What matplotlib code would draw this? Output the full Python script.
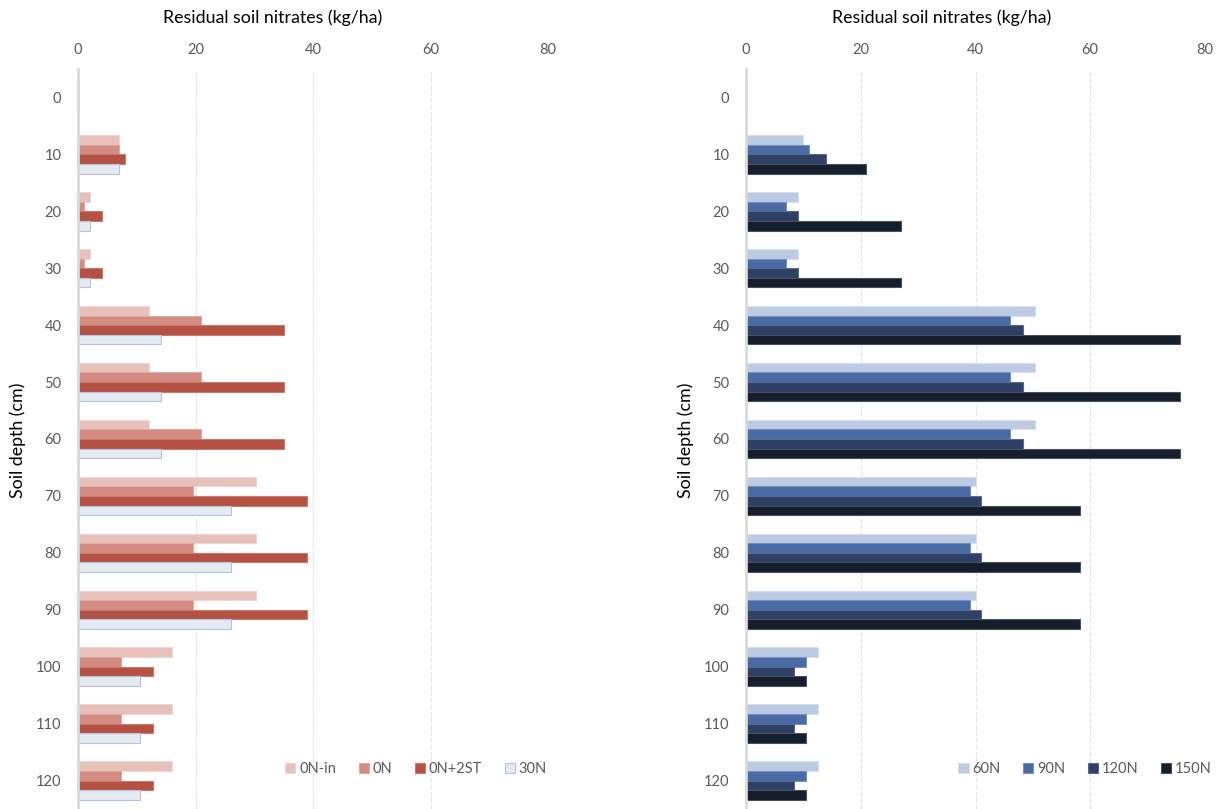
import numpy as np
import matplotlib
matplotlib.use("Agg")
import matplotlib.pyplot as plt
from matplotlib.patches import Patch

plt.rcParams["font.family"] = ["Lato", "DejaVu Sans"]

depths = [0, 10, 20, 30, 40, 50, 60, 70, 80, 90, 100, 110, 120]

# left panel: control treatments
left_names = ["0N-in", "0N", "0N+2ST", "30N"]
on_in = [0, 7, 2, 2, 12, 12, 12, 30.3, 30.3, 30.3, 16, 16, 16]
on = [0, 7, 1, 1, 21, 21, 21, 19.5, 19.5, 19.5, 7.4, 7.4, 7.4]
on_2st = [0, 8, 4, 4, 35, 35, 35, 39, 39, 39, 12.7, 12.7, 12.7]
n30 = [0, 7, 2, 2, 14.2, 14.2, 14.2, 26, 26, 26, 10.6, 10.6, 10.6]

# right panel: N rates
right_names = ["60N", "90N", "120N", "150N"]
n60 = [0, 10, 9, 9, 50.4, 50.4, 50.4, 40, 40, 40, 12.6, 12.6, 12.6]
n90 = [0, 11, 7, 7, 46, 46, 46, 39, 39, 39, 10.5, 10.5, 10.5]
n120 = [0, 14, 9, 9, 48.2, 48.2, 48.2, 41, 41, 41, 8.4, 8.4, 8.4]
n150 = [0, 21, 27, 27, 75.6, 75.6, 75.6, 58.3, 58.3, 58.3, 10.5, 10.5, 10.5]

LEFT_FC = ["#e6c1bb", "#d38b82", "#b55143", "#e4e9f2"]
LEFT_EC = ["#efd6d2", "#e0aaa3", "#c97a6f", "#b4c3de"]
RIGHT_FC = ["#bccae3", "#4a6aa5", "#2e4066", "#161d2b"]
RIGHT_EC = ["#d6dfee", "#7990bd", "#5a6a8a", "#4a5260"]
GRAY = "#595959"

fig = plt.figure(figsize=(12.2, 8.09), dpi=100)


def panel(rect, series, names, fcs, ecs, title_x, ylab_x, leg_x):
    ax = fig.add_axes(rect)
    y = np.arange(len(depths))
    h = 0.169
    for i, vals in enumerate(series):
        ax.barh(y + (i - 1.5) * h, vals, height=h, color=fcs[i],
                edgecolor=ecs[i], linewidth=0.8, zorder=3)
    ax.set_xlim(0, 80)
    ax.set_ylim(len(depths) - 0.5, -0.5)
    ax.set_xticks([0, 20, 40, 60, 80])
    ax.set_yticks(y)
    ax.set_yticklabels([str(d) for d in depths])
    ax.xaxis.tick_top()
    ax.tick_params(axis="x", length=0, pad=9, labelsize=10.5, labelcolor=GRAY)
    ax.tick_params(axis="y", length=0, pad=12, labelsize=10.5, labelcolor=GRAY)
    for s in ["top", "right", "bottom"]:
        ax.spines[s].set_visible(False)
    ax.spines["left"].set_color("#d9d9d9")
    ax.spines["left"].set_linewidth(2)
    ax.spines["left"].set_zorder(4)
    for gx in [20, 40, 60, 80]:
        ax.axvline(gx, color="#e3e3e3", lw=0.8, ls=(0, (4, 2)), zorder=1)
    fig.text(title_x, 1 - 18 / 809, "Residual soil nitrates (kg/ha)",
             ha="center", va="center", fontsize=12.8, color="black")
    fig.text(ylab_x, 1 - 440 / 809, "Soil depth (cm)", rotation=90,
             ha="center", va="center", fontsize=12.8, color="black")
    handles = [Patch(facecolor=fcs[i], edgecolor=ecs[i], lw=0.8)
               for i in range(len(names))]
    leg = fig.legend(handles, names, loc="center", ncol=4, frameon=False,
                     bbox_to_anchor=(leg_x, 1 - 769 / 809), fontsize=10.5,
                     handlelength=0.7, handleheight=0.7, handletextpad=0.25,
                     columnspacing=1.55)
    for t in leg.get_texts():
        t.set_color(GRAY)
    return ax


# axes rectangles taken from the reference pixel layout
panel([78 / 1220, 0, 470 / 1220, 1 - 69 / 809],
      [on_in, on, on_2st, n30], left_names, LEFT_FC, LEFT_EC,
      273 / 1220, 18 / 1220, 416 / 1220)
panel([746 / 1220, 0, 459 / 1220, 1 - 69 / 809],
      [n60, n90, n120, n150], right_names, RIGHT_FC, RIGHT_EC,
      942 / 1220, 686 / 1220, 1085 / 1220)

fig.savefig("out.png", dpi=100)
